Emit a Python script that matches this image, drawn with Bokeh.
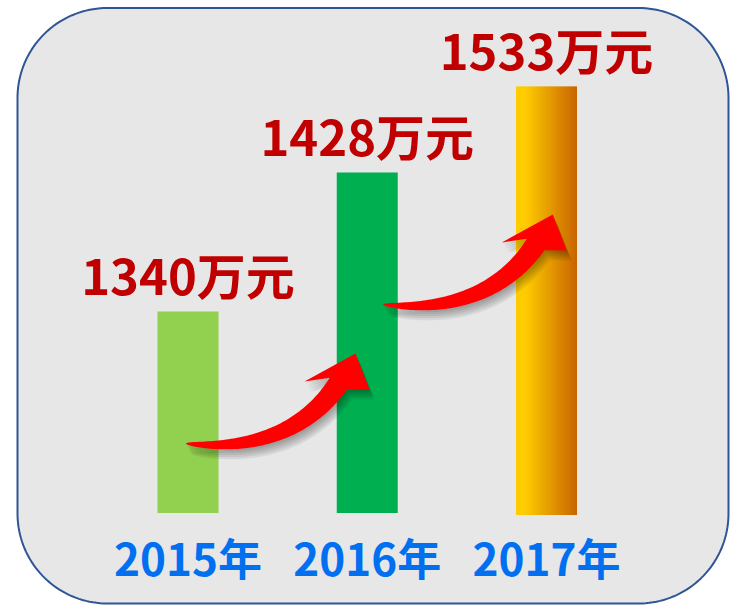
import numpy as np
from bokeh.plotting import figure
from bokeh.models import Range1d
from bokeh.embed import file_html
from bokeh.resources import INLINE
from bokeh.core.properties import value

# ---------------- data ----------------
years = ["2015年", "2016年", "2017年"]
amounts = [1340, 1428, 1533]                  # 万元
value_labels = [f"{a}万元" for a in amounts]
bar_heights = [201.5, 340.5, 426.5]           # drawn bar heights (px above baseline)
bar_bottoms = [0.0, 0.0, -2.0]
bar_colors = ["#92D050", "#00B050", "gradient"]
gradient_stops = [(0.0, (255, 204, 0)), (0.15, (255, 204, 0)), (1.0, (200, 100, 0))]
arrow_tail_dx = [-2.5, 15.5]                  # arrow tail offset from bar centre (px)

# ---------------- layout helpers ----------------
W, H = 730, 606
PAGE = 0
X0_PX = 187.5      # screen px of category 0 centre
STEP_PX = 179.25   # px per category
BASE_PX = 512.5    # screen px of bar baseline
BAR_W = 61 / STEP_PX
TEXT_SHIFT = 22    # compensation for the SVG text baseline placement


def dx(px):
    return (np.asarray(px, float) - X0_PX) / STEP_PX


def dy(py):
    return BASE_PX - np.asarray(py, float)


p = figure(width=W, height=H, output_backend="svg", toolbar_location=None,
           x_range=Range1d(float(dx(PAGE)), float(dx(PAGE + W))),
           y_range=Range1d(float(dy(PAGE + H)), float(dy(PAGE))),
           x_axis_location=None, y_axis_location=None, min_border=0,
           background_fill_color="white", border_fill_color="white",
           outline_line_color=None)
p.xgrid.visible = False
p.ygrid.visible = False

# ---------------- rounded frame ----------------
def rounded_rect(l, t, r, b, rad, n=40):
    pts = []
    corners = [(r - rad, t + rad, -90, 0), (r - rad, b - rad, 0, 90),
               (l + rad, b - rad, 90, 180), (l + rad, t + rad, 180, 270)]
    for cx, cy, a0, a1 in corners:
        for a in np.linspace(np.radians(a0), np.radians(a1), n):
            pts.append((cx + rad * np.cos(a), cy + rad * np.sin(a)))
    xs, ys = zip(*pts)
    return list(dx(xs)), list(dy(ys))

fx, fy = rounded_rect(17, 7.5, 728, 603, 90)
p.patch(fx, fy, fill_color="#E7E7E7", line_color="#2F5597", line_width=2)

# ---------------- bars ----------------
idx = list(range(len(years)))
solid = [i for i in idx if bar_colors[i] != "gradient"]
p.vbar(x=[idx[i] for i in solid], width=BAR_W,
       top=[bar_heights[i] for i in solid], bottom=[bar_bottoms[i] for i in solid],
       fill_color=[bar_colors[i] for i in solid], line_color=None)


def grad_color(f):
    for (f0, c0), (f1, c1) in zip(gradient_stops[:-1], gradient_stops[1:]):
        if f0 <= f <= f1:
            u = 0 if f1 == f0 else (f - f0) / (f1 - f0)
            c = [int(round(a + (b - a) * u)) for a, b in zip(c0, c1)]
            return "#%02x%02x%02x" % tuple(c)
    return "#%02x%02x%02x" % gradient_stops[-1][1]

NS = 48
for i in idx:
    if bar_colors[i] != "gradient":
        continue
    left0 = i - BAR_W / 2
    sw = BAR_W / NS
    lefts = [left0 + j * sw for j in range(NS)]
    rights = [min(l + sw * 1.6, i + BAR_W / 2) for l in lefts]
    cols = [grad_color((j + 0.5) / NS) for j in range(NS)]
    p.quad(left=lefts, right=rights, top=[bar_heights[i]] * NS,
           bottom=[bar_bottoms[i]] * NS, fill_color=cols, line_color=None)

# ---------------- arrows ----------------
def arrow_poly(tx, ty):
    P = np.array([[0, 0], [65, 7], [120, -11], [153, -60]], float) + [tx, ty]
    t = np.linspace(0, 1, 70)
    B = (((1 - t) ** 3)[:, None] * P[0] + (3 * (1 - t) ** 2 * t)[:, None] * P[1]
         + (3 * (1 - t) * t ** 2)[:, None] * P[2] + (t ** 3)[:, None] * P[3])
    D = ((3 * (1 - t) ** 2)[:, None] * (P[1] - P[0]) + (6 * (1 - t) * t)[:, None] * (P[2] - P[1])
         + (3 * t ** 2)[:, None] * (P[3] - P[2]))
    D /= np.linalg.norm(D, axis=1)[:, None]
    N = np.stack([-D[:, 1], D[:, 0]], axis=1)
    w = 10.5 * np.sqrt(t)
    plus = B + N * w[:, None]
    minus = B - N * w[:, None]
    head = np.array([[184, -54], [170, -90], [119, -62]], float) + [tx, ty]
    poly = np.vstack([plus, head, minus[::-1]])
    return poly[:, 0], poly[:, 1]

for k in range(len(idx) - 1):
    tail_px = X0_PX + k * STEP_PX + arrow_tail_dx[k]
    tail_py = BASE_PX - (bar_heights[k] - 132)
    ax, ay = arrow_poly(tail_px, tail_py)
    for s in range(1, 6):
        p.patch(list(dx(ax + s * 1.0)), list(dy(ay + s * 2.0)),
                fill_color="black", fill_alpha=0.07, line_color=None)
    p.patch(list(dx(ax)), list(dy(ay)), fill_color="#FF0000", line_color=None)

# ---------------- texts ----------------
font = value("Noto Sans CJK SC")
p.text(x=idx, y=[h + 16 + TEXT_SHIFT for h in bar_heights], text=value_labels,
       text_font=font, text_font_style="bold", text_font_size="49px",
       text_color="#C00000", text_align="center", text_baseline="alphabetic")
p.text(x=idx, y=[float(dy(578 - TEXT_SHIFT))] * len(idx), text=years,
       text_font=font, text_font_style="bold", text_font_size="44px",
       text_color="#0070F0", text_align="center", text_baseline="alphabetic")

open("out.html", "w").write(file_html(p, INLINE))
